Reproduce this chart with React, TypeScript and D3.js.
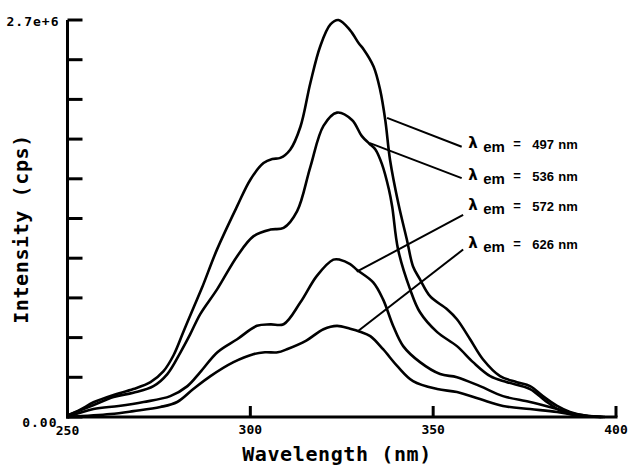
import * as d3 from 'd3';

// emission wavelengths (nm) of the four excitation spectra
const emissionNames = ['497', '536', '572', '626'];

// excitation wavelength (nm) / intensity (x 1e6 cps)
const wl497 = [250, 253.5, 257.1, 262.6, 268, 272.7, 276.2, 279, 281.7, 284.4, 286.8, 290.9, 296.4, 300, 303.6, 306, 308.2, 310.9, 313.7, 316.4, 319.1, 321.9, 324.1, 327.3, 329.7, 331, 333.7, 335.5, 336.9, 338.2, 340.5, 342.8, 344.5, 346.4, 349.2, 353.8, 356.5, 360.1, 363.6, 368.3, 372.9, 376.5, 380, 383.9, 387.4, 391.6, 397];
const int497 = [0.01, 0.05, 0.1, 0.15, 0.19, 0.237, 0.31, 0.42, 0.58, 0.74, 0.88, 1.14, 1.434, 1.614, 1.727, 1.755, 1.762, 1.818, 1.974, 2.27, 2.52, 2.67, 2.7, 2.63, 2.54, 2.5, 2.384, 2.225, 2.02, 1.75, 1.45, 1.207, 1.024, 0.936, 0.82, 0.733, 0.665, 0.529, 0.393, 0.278, 0.237, 0.21, 0.142, 0.075, 0.034, 0.01, 0];

const wl536 = [250, 257, 262.6, 268, 273.5, 277.3, 280.9, 283.5, 286.3, 290.9, 296.4, 300.9, 305.5, 309.1, 312.8, 316.4, 320, 323.7, 327.8, 330.5, 332.5, 334.2, 336, 337.9, 338.8, 340.4, 343.7, 346.4, 351.1, 356.5, 360.9, 365.6, 370.2, 376.5, 380.7, 384.6, 388.6, 396.5];
const int536 = [0.01, 0.08, 0.136, 0.165, 0.21, 0.292, 0.44, 0.56, 0.7, 0.868, 1.094, 1.23, 1.275, 1.286, 1.4, 1.7, 1.98, 2.07, 2.02, 1.91, 1.86, 1.82, 1.72, 1.547, 1.43, 1.14, 0.868, 0.712, 0.577, 0.482, 0.373, 0.278, 0.237, 0.19, 0.11, 0.045, 0.014, 0];

const wl572 = [250, 257.1, 264, 270.8, 278.1, 282.8, 286.3, 291, 296.4, 301.8, 305.5, 309.1, 313.7, 318.2, 322.7, 324.5, 327.3, 329.2, 333.6, 336.3, 339.1, 341.8, 346.4, 351.9, 356.5, 362.8, 369.1, 376.5, 383.9, 390, 396];
const int572 = [0, 0.054, 0.075, 0.102, 0.142, 0.21, 0.305, 0.441, 0.529, 0.62, 0.63, 0.631, 0.78, 0.96, 1.07, 1.07, 1.04, 1.0, 0.916, 0.8, 0.617, 0.482, 0.373, 0.292, 0.271, 0.21, 0.142, 0.102, 0.054, 0.015, 0];

const wl626 = [250, 261.7, 268, 275.4, 280, 284.4, 289.1, 295.4, 300.8, 304, 307.5, 310, 315.3, 320, 323.7, 327.3, 330, 332.8, 336.3, 340.2, 344.5, 351.1, 356.5, 362.8, 369.1, 376.5, 383.9, 390, 396];
const int626 = [0, 0.02, 0.04, 0.068, 0.102, 0.19, 0.278, 0.373, 0.427, 0.44, 0.44, 0.461, 0.52, 0.597, 0.62, 0.6, 0.58, 0.55, 0.461, 0.346, 0.244, 0.19, 0.17, 0.122, 0.075, 0.054, 0.034, 0.01, 0];

const wavelengths = [wl497, wl536, wl572, wl626];
const intensities = [int497, int536, int572, int626];

// leader lines: [wavelength, intensity] on the curve -> end near label
const leaderFrom = [[337.4, 2.034], [332.7, 1.863], [329.1, 0.988], [329.3, 0.581]];
const leaderTo = [[357.8, 1.838], [357.8, 1.625], [358.2, 1.374], [358.2, 1.139]];
const labelAt = [[359.6, 1.829], [359.6, 1.612], [359.6, 1.408], [359.6, 1.149]];

const xTicks = [300, 350, 400];
const yTicks = d3.range(0, 11).map((i) => i * 0.27);
const yMaxLabel = '2.7e+6';
const yMinLabel = '0.00';
const xMinLabel = '250';

const width = 628;
const height = 465;

const x = d3.scaleLinear().domain([250, 400]).range([67.5, 616]);
const y = d3.scaleLinear().domain([0, 2.7]).range([417, 20]);

const monoFont = '"DejaVu Sans Mono", monospace';
const labelFont = '"Liberation Sans", Arial, sans-serif';

const spectrumLine = d3.line().curve(d3.curveCatmullRom.alpha(0.5));

export default function App() {
  return (
    <svg
      width={width}
      height={height}
      style={{ position: 'absolute', left: 0, top: 0, background: '#fff' }}
    >
      {/* curves */}
      <g fill="none" stroke="#000" strokeWidth={2.6} strokeLinejoin="round">
        {wavelengths.map((wl, i) => {
          const pts = wl.map((w, j) => [x(w), y(intensities[i][j])] as [number, number]);
          return <path key={emissionNames[i]} d={spectrumLine(pts) || ''} />;
        })}
      </g>

      {/* leader lines */}
      <g stroke="#000" strokeWidth={2}>
        {leaderFrom.map((p, i) => (
          <line
            key={i}
            x1={x(p[0])}
            y1={y(p[1])}
            x2={x(leaderTo[i][0])}
            y2={y(leaderTo[i][1])}
          />
        ))}
      </g>

      {/* labels */}
      {labelAt.map((p, i) => {
        const lx = x(p[0]);
        const ly = y(p[1]);
        return (
          <g key={i} fontWeight="bold" fill="#000">
            <text x={lx} y={ly} fontFamily='"DejaVu Sans", sans-serif' fontSize={15}>
              λ
            </text>
            <text x={lx + 15} y={ly + 4} fontFamily={labelFont} fontSize={15}>
              em
            </text>
            <text x={lx + 45} y={ly} fontFamily={labelFont} fontSize={13}>
              =
            </text>
            <text x={lx + 64} y={ly + 1} fontFamily={labelFont} fontSize={13}>
              {emissionNames[i]}
            </text>
            <text x={lx + 90} y={ly + 1} fontFamily={labelFont} fontSize={13}>
              nm
            </text>
          </g>
        );
      })}

      {/* axes */}
      <g stroke="#000" strokeWidth={3} fill="none">
        <line x1={x(250)} y1={y(2.7)} x2={x(250)} y2={y(0) + 1.5} />
        <line x1={x(250) - 1.5} y1={y(0)} x2={x(400) + 1.5} y2={y(0)} />
        {yTicks.map((t) => (
          <line key={t} x1={x(250)} y1={y(t)} x2={x(250) + 15} y2={y(t)} />
        ))}
        {xTicks.map((t) => (
          <line key={t} x1={x(t)} y1={y(0)} x2={x(t)} y2={y(0) - 11} />
        ))}
      </g>

      <g fontFamily={monoFont} fontWeight="bold" fill="#000">
        <text x={x(250) - 8} y={y(2.7) + 6} fontSize={13} textAnchor="end" letterSpacing={1}>
          {yMaxLabel}
        </text>
        <text x={x(250) - 10} y={y(0) + 10} fontSize={13} textAnchor="end" letterSpacing={1}>
          {yMinLabel}
        </text>
        <text x={x(250)} y={y(0) + 18} fontSize={13} textAnchor="middle">
          {xMinLabel}
        </text>
        {xTicks.map((t) => (
          <text key={t} x={x(t)} y={y(0) + 17} fontSize={13} textAnchor="middle">
            {t}
          </text>
        ))}
        <text x={337} y={461} fontSize={20} textAnchor="middle" letterSpacing={0.6}>
          Wavelength (nm)
        </text>
        <text
          transform="translate(28,229) rotate(-90)"
          fontSize={20}
          textAnchor="middle"
          letterSpacing={0.6}
        >
          Intensity (cps)
        </text>
      </g>
    </svg>
  );
}
